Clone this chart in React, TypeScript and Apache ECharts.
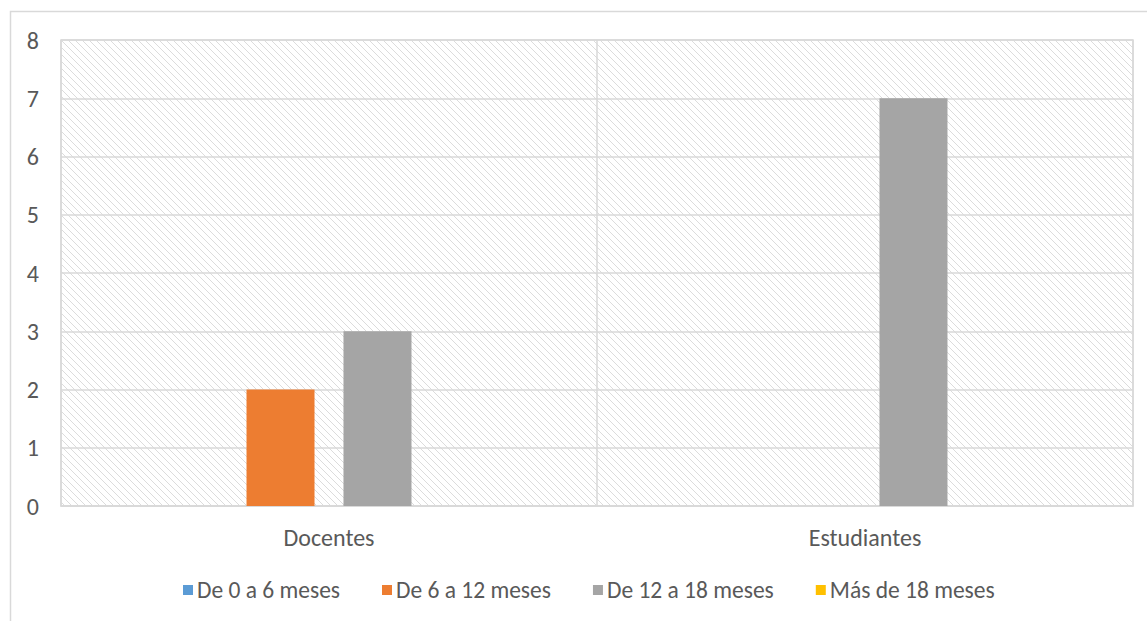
import React, { useEffect, useRef } from "react";
import * as echarts from "echarts";

const categories = ["Docentes", "Estudiantes"];
const seriesNames = ["De 0 a 6 meses", "De 6 a 12 meses", "De 12 a 18 meses", "Más de 18 meses"];
const seriesColors = ["#5b9bd5", "#ed7d31", "#a5a5a5", "#ffc000"];
const de0a6 = [0, 0];
const de6a12 = [2, 0];
const de12a18 = [3, 7];
const mas18 = [0, 0];
const seriesValues = [de0a6, de6a12, de12a18, mas18];
const yTicks = [0, 1, 2, 3, 4, 5, 6, 7, 8];

const FONT = "Carlito, Lato, sans-serif";

function makeHatch() {
  const c = document.createElement("canvas");
  c.width = 7;
  c.height = 7;
  const ctx = c.getContext("2d")!;
  ctx.fillStyle = "#ffffff";
  ctx.fillRect(0, 0, 7, 7);
  ctx.strokeStyle = "#dcdcdc";
  ctx.lineWidth = 1;
  ctx.beginPath();
  ctx.moveTo(-1, -1);
  ctx.lineTo(8, 8);
  ctx.moveTo(-1, 6);
  ctx.lineTo(1, 8);
  ctx.moveTo(6, -1);
  ctx.lineTo(8, 1);
  ctx.stroke();
  return c;
}

export default function App() {
  const ref = useRef<HTMLDivElement>(null);
  useEffect(() => {
    const chart = echarts.init(ref.current!, null, { renderer: "svg" });
    const hatch = makeHatch();
    chart.setOption({
      animation: false,
      backgroundColor: "#ffffff",
      graphic: [
        {
          type: "rect",
          shape: { x: 10.5, y: 11.5, width: 1200, height: 700 },
          style: { fill: "none", stroke: "#d9d9d9", lineWidth: 1.5 },
          silent: true,
          z: -10,
        },
      ],
      grid: {
        left: 61,
        top: 40,
        right: 14,
        bottom: 115,
        show: true,
        borderColor: "#d9d9d9",
        borderWidth: 1.5,
        backgroundColor: { image: hatch, repeat: "repeat", imageWidth: 7, imageHeight: 7 },
      },
      legend: {
        bottom: 19,
        left: 183,
        padding: 0,
        itemWidth: 10,
        itemHeight: 10,
        itemGap: 42,
        icon: "rect",
        textStyle: { fontFamily: FONT, fontSize: 23.5, color: "#595959", padding: [0, 0, 0, -1] },
        data: seriesNames,
      },
      xAxis: {
        type: "category",
        data: categories,
        axisLine: { show: true, lineStyle: { color: "#d9d9d9", width: 1.5 } },
        axisTick: { show: false },
        splitLine: { show: true, interval: 0, lineStyle: { color: "#d9d9d9", width: 1.5 } },
        axisLabel: { fontFamily: FONT, fontSize: 24, color: "#595959", margin: 19 },
      },
      yAxis: {
        type: "value",
        min: yTicks[0],
        max: yTicks[yTicks.length - 1],
        interval: 1,
        axisLine: { show: false },
        axisTick: { show: false },
        splitLine: { lineStyle: { color: "#d9d9d9", width: 1.5 } },
        axisLabel: { fontFamily: FONT, fontSize: 24, color: "#595959", margin: 22 },
      },
      series: seriesNames.map((name, i) => ({
        name,
        type: "bar",
        data: seriesValues[i],
        barWidth: 68,
        barGap: "42.6%",
        itemStyle: { color: seriesColors[i] },
      })),
    });
    return () => chart.dispose();
  }, []);
  return (
    <div
      ref={ref}
      style={{ position: "absolute", left: 0, top: 0, width: 1147, height: 621 }}
    />
  );
}
